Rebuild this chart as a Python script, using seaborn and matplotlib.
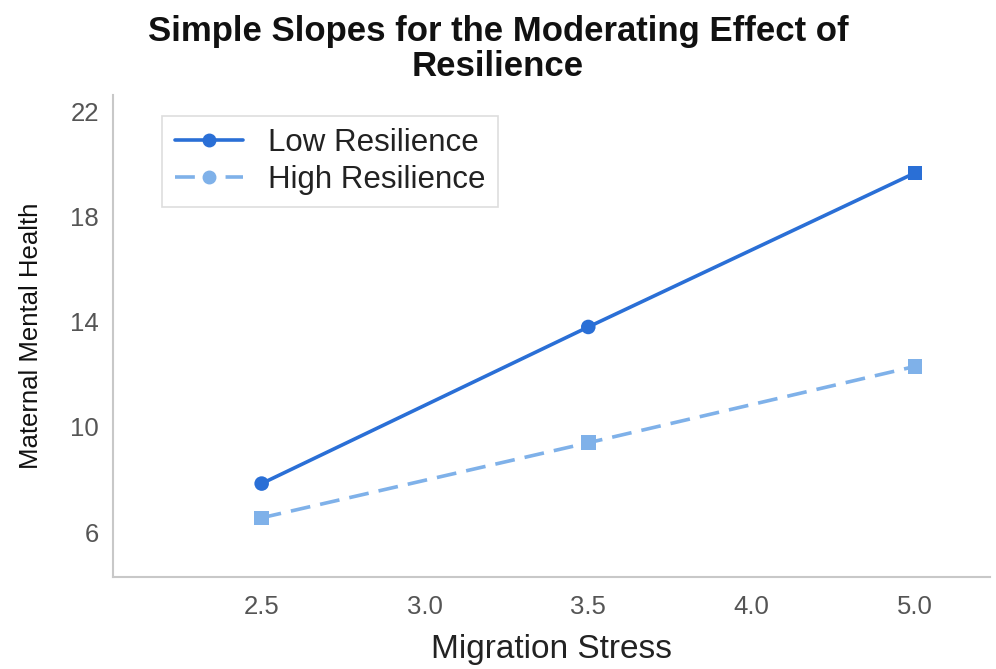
import pandas as pd
import matplotlib
matplotlib.use("Agg")
import matplotlib.pyplot as plt
from matplotlib.lines import Line2D
import seaborn as sns

# values
x_tick_labels = ["2.5", "3.0", "3.5", "4.0", "5.0"]
stress_levels = ["2.5", "3.5", "5.0"]
low_resilience = [7.85, 13.8, 19.65]
high_resilience = [6.55, 9.4, 12.3]
low_markers = ["o", "o", "s"]
high_markers = ["s", "s", "s"]
y_ticks = [6, 10, 14, 18, 22]

low_color = "#2a6fd6"
high_color = "#7fb1e9"

sns.set_style("white")
plt.rcParams["font.family"] = ["Liberation Sans", "DejaVu Sans"]

pos = [x_tick_labels.index(s) for s in stress_levels]
data = pd.DataFrame({
    "pos": pos * 2,
    "value": low_resilience + high_resilience,
    "group": ["Low Resilience"] * 3 + ["High Resilience"] * 3,
    "marker": low_markers + high_markers,
})
pal = {"Low Resilience": low_color, "High Resilience": high_color}

fig = plt.figure(figsize=(9.96, 6.69), dpi=100)
ax = fig.add_axes([0.1135, 0.1375, 0.8805, 0.72])

sns.lineplot(data=data, x="pos", y="value", hue="group", style="group",
             palette=pal,
             dashes={"Low Resilience": "", "High Resilience": (5.5, 2.8)},
             linewidth=2.6, legend=False, ax=ax)
for m in ["o", "s"]:
    sub = data[data["marker"] == m]
    sns.scatterplot(data=sub, x="pos", y="value", hue="group", palette=pal,
                    marker=m, s=110, edgecolor="none", legend=False, ax=ax, zorder=3)

ax.set_xlim(-0.91, 4.46)
ax.set_ylim(4.3, 22.6)
ax.set_xticks(range(len(x_tick_labels)))
ax.set_xticklabels(x_tick_labels)
ax.set_yticks(y_ticks)
ax.tick_params(axis="both", colors="#aaaaaa", labelcolor="#555555", labelsize=18.5,
               direction="out", length=5, width=1)
ax.tick_params(axis="x", pad=8)
ax.tick_params(axis="y", pad=5)
for side in ["top", "right"]:
    ax.spines[side].set_visible(False)
for side in ["left", "bottom"]:
    ax.spines[side].set_color("#c8c8c8")
    ax.spines[side].set_linewidth(1.5)

ax.set_xlabel("Migration Stress", fontsize=24, color="#222222", labelpad=11)
ax.set_ylabel("Maternal Mental Health", fontsize=18.5, color="#111111", labelpad=20)
fig.suptitle("Simple Slopes for the Moderating Effect of\nResilience",
             fontsize=25, fontweight="bold", color="#111111", y=0.977,
             linespacing=1.05)

handles = [
    Line2D([], [], color=low_color, linewidth=2.6, marker="o", markersize=9),
    Line2D([], [], color=high_color, linewidth=2.6, linestyle=(0, (5.5, 8.5)),
           marker="o", markersize=9),
]
leg = ax.legend(handles, ["Low Resilience", "High Resilience"], loc="upper left",
                bbox_to_anchor=(0.056, 0.958), borderaxespad=0, fontsize=22.5,
                frameon=True, fancybox=False, edgecolor="#d5d5d5", handlelength=2.2,
                borderpad=0.4, labelspacing=0.22, handletextpad=0.8)
leg.get_frame().set_linewidth(1.2)
for t in leg.get_texts():
    t.set_color("#222222")

fig.savefig("out.png", dpi=100)
